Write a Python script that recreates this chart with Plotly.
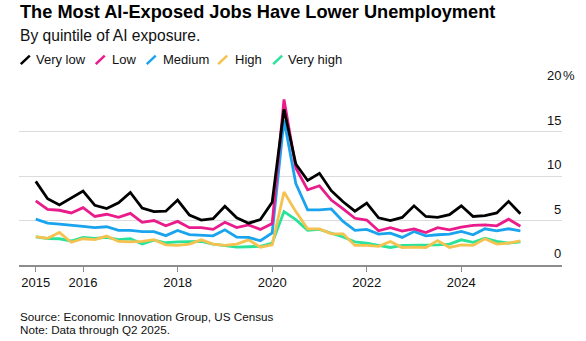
import plotly.graph_objects as go

# Quarterly unemployment rate (%) by quintile of AI exposure, 2015 Q1 - 2025 Q2
quarters = [f"{y}Q{q}" for y in range(2015, 2026) for q in range(1, 5)][:42]

very_low = [9.4, 7.45, 6.75, 7.5, 8.3, 6.7, 6.35, 7.0, 8.15, 6.4, 6.0, 6.05,
            7.3, 5.6, 5.05, 5.2, 6.6, 5.3, 4.7, 5.1, 7.05, 17.5, 11.35, 9.5,
            10.3, 8.35, 7.1, 6.05, 6.95, 5.3, 5.0, 5.35, 6.65, 5.45, 5.35, 5.65,
            6.65, 5.45, 5.55, 5.85, 7.15, 5.75]
low = [7.2, 6.25, 6.15, 5.85, 6.45, 5.45, 5.7, 5.35, 5.8, 4.8, 5.0, 4.4,
       4.9, 4.2, 4.2, 4.0, 4.8, 4.2, 4.5, 4.0, 4.65, 18.6, 10.9, 8.45,
       8.9, 7.3, 6.3, 5.25, 5.05, 3.85, 4.2, 3.8, 4.05, 3.65, 4.2, 3.95,
       4.25, 4.45, 4.5, 4.4, 5.15, 4.35]
medium = [5.15, 4.7, 4.6, 4.5, 4.33, 4.2, 4.3, 3.9, 3.88, 3.75, 3.75, 3.3,
          3.88, 3.42, 3.38, 3.28, 3.95, 3.13, 3.1, 2.72, 3.6, 16.3, 9.15, 6.2,
          6.2, 6.3, 4.9, 3.9, 4.0, 3.47, 3.58, 3.1, 3.77, 3.28, 3.4, 3.47,
          3.77, 3.4, 4.07, 3.84, 4.07, 3.84]
high = [3.2, 3.0, 3.65, 2.55, 2.95, 2.85, 3.25, 2.65, 2.6, 2.65, 2.85, 2.27,
        2.2, 2.35, 2.83, 2.35, 2.2, 2.35, 2.83, 2.0, 2.27, 8.2, 6.0, 4.07,
        4.05, 3.5, 3.5, 2.2, 2.2, 2.1, 2.65, 1.97, 2.0, 1.97, 2.75, 1.97,
        2.27, 2.2, 2.94, 2.35, 2.45, 2.7]
very_high = [3.15, 2.96, 2.95, 2.7, 3.1, 3.0, 3.1, 2.85, 2.95, 2.37, 2.8, 2.5,
             2.6, 2.6, 2.65, 2.35, 2.2, 2.0, 2.05, 2.1, 2.45, 6.0, 5.1, 3.9,
             4.0, 3.55, 3.15, 2.6, 2.45, 2.2, 1.97, 2.2, 2.2, 2.2, 2.27, 2.35,
             2.83, 2.55, 3.0, 2.65, 2.45, 2.6]

series_names = ["Very low", "Low", "Medium", "High", "Very high"]
series_values = [very_low, low, medium, high, very_high]
series_colors = ["#000000", "#ea1b8a", "#1ba4ee", "#f5c24f", "#2ae39b"]

x_tick_years = [2015, 2016, 2018, 2020, 2022, 2024]
y_tick_values = [0, 5, 10, 15, 20]

# quarter label -> decimal year
xs = [int(q[:4]) + (int(q[-1]) - 1) / 4 for q in quarters]

W, H = 586, 341
L, R, T, B = 18.7, 24, 87.3, 75.8
PW, PH = W - L - R, H - T - B
FONT = "Liberation Sans, Arial, sans-serif"


def px(x):
    return (x - L) / PW


def py(y):
    return (H - B - y) / PH


fig = go.Figure()

# draw the "Very low" line last so it sits on top
for name, vals, col in reversed(list(zip(series_names, series_values, series_colors))):
    fig.add_trace(go.Scatter(x=xs, y=vals, mode="lines", name=name,
                             line=dict(color=col, width=2.8),
                             showlegend=False, hoverinfo="skip"))

fig.update_layout(
    width=W, height=H,
    margin=dict(l=L, r=R, t=T, b=B, pad=0),
    paper_bgcolor="white", plot_bgcolor="white",
    font=dict(family=FONT, color="#111111", size=13),
    xaxis=dict(range=[2014.645, 2026.13], tickvals=x_tick_years,
               ticktext=[str(y) for y in x_tick_years],
               showgrid=False, zeroline=False, showline=True,
               linecolor="#8c8c8c", linewidth=1.5,
               ticks="outside", ticklen=5, tickwidth=1, tickcolor="#8c8c8c",
               tickfont=dict(size=13, color="#111111")),
    yaxis=dict(range=[0, 20], tickvals=y_tick_values, showticklabels=False,
               showgrid=True, gridcolor="#dcdcdc", gridwidth=1,
               zeroline=False, showline=False),
)

anns = []
# y tick labels, right-aligned above their gridlines
for v in y_tick_values:
    anns.append(dict(x=1, xref="paper", y=v, yref="y", text=str(v),
                     xanchor="right", yanchor="middle", showarrow=False,
                     xshift=1, yshift=11.5, font=dict(size=13, color="#111111")))
anns.append(dict(x=1, xref="paper", y=20, yref="y", text="%",
                 xanchor="left", yanchor="middle", showarrow=False,
                 xshift=-1, yshift=11.5, font=dict(size=13, color="#111111")))

# title, subtitle, footer
anns.append(dict(x=px(20 - 2), y=py(12.7), xref="paper", yref="paper",
                 text="<b>The Most AI-Exposed Jobs Have Lower Unemployment</b>",
                 xanchor="left", yanchor="middle", showarrow=False,
                 font=dict(size=18.2, color="#000000")))
anns.append(dict(x=px(20 - 2), y=py(36), xref="paper", yref="paper",
                 text="By quintile of AI exposure.",
                 xanchor="left", yanchor="middle", showarrow=False,
                 font=dict(size=15.6, color="#111111")))
anns.append(dict(x=px(19.4 - 2), y=py(317), xref="paper", yref="paper",
                 text="Source: Economic Innovation Group, US Census",
                 xanchor="left", yanchor="middle", showarrow=False,
                 font=dict(size=11.7, color="#111111")))
anns.append(dict(x=px(19.4 - 2), y=py(330), xref="paper", yref="paper",
                 text="Note: Data through Q2 2025.",
                 xanchor="left", yanchor="middle", showarrow=False,
                 font=dict(size=11.7, color="#111111")))

# legend: slanted colour strokes followed by labels
legend_slash_x = [20.5, 95.5, 146.5, 218, 273]
legend_text_x = [36, 112, 162.6, 235, 288]
shapes = []
for name, col, sx, tx in zip(series_names, series_colors, legend_slash_x, legend_text_x):
    shapes.append(dict(type="line", xref="paper", yref="paper",
                       x0=px(sx), y0=py(64.5), x1=px(sx + 9), y1=py(56),
                       line=dict(color=col, width=2.5)))
    anns.append(dict(x=px(tx - 2), y=py(60), xref="paper", yref="paper",
                     text=name, xanchor="left", yanchor="middle", showarrow=False,
                     font=dict(size=13, color="#111111")))

fig.update_layout(annotations=anns, shapes=shapes)
fig.write_html("out.html")
